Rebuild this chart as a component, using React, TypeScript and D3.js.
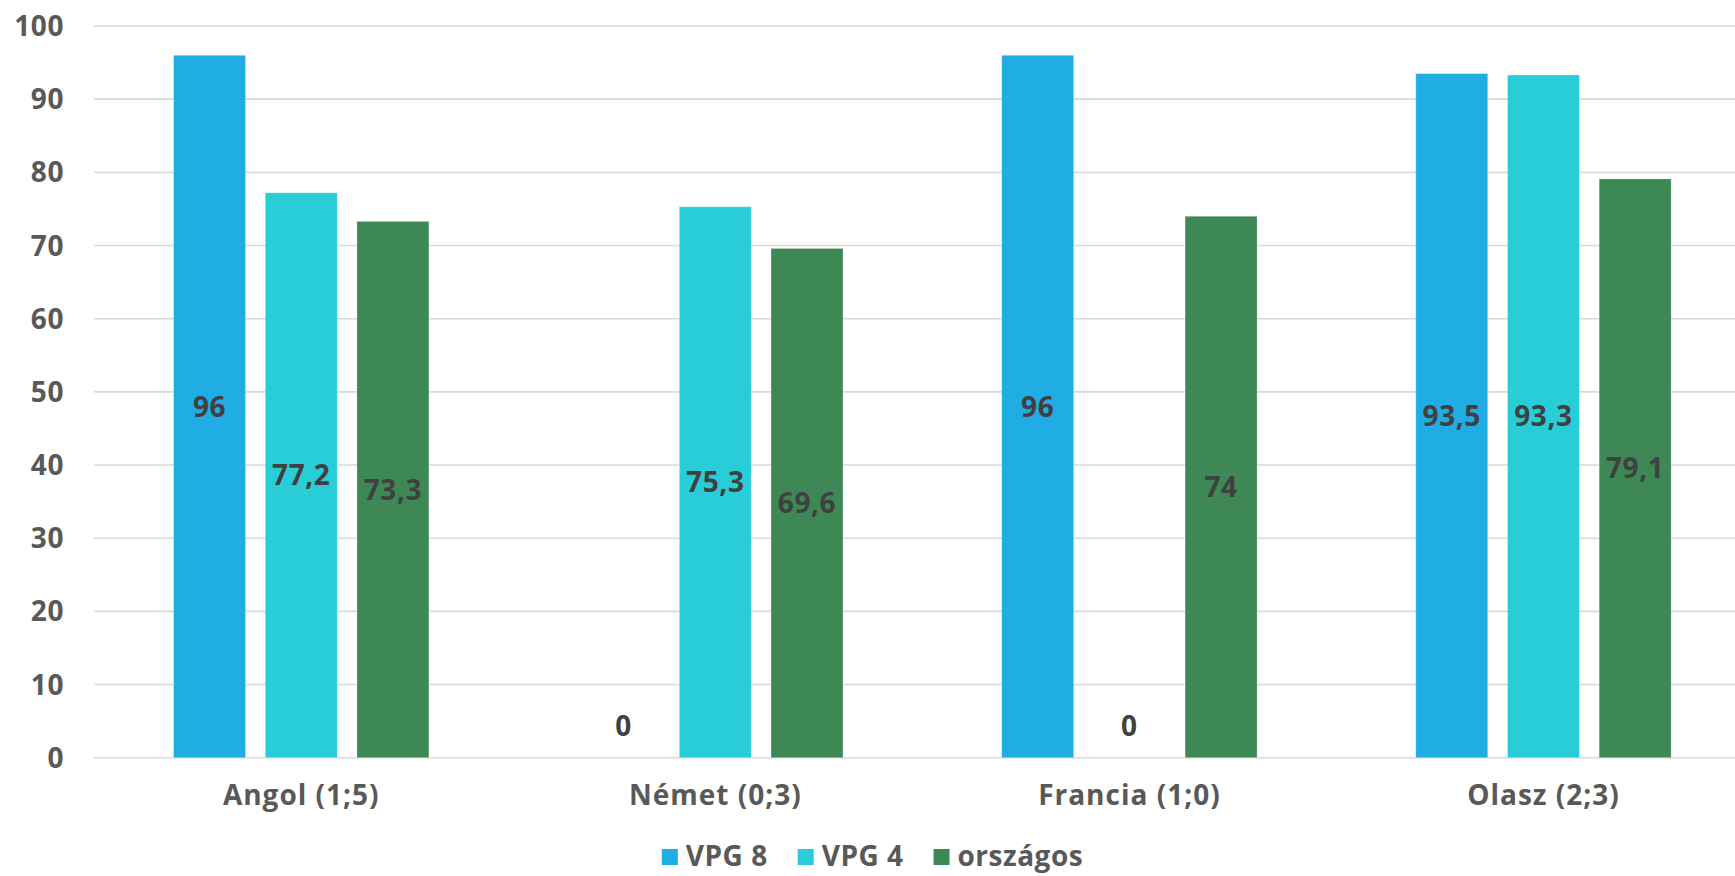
import React, { useEffect, useRef } from "react";
import * as d3 from "d3";

const categories = ["Angol (1;5)", "Német (0;3)", "Francia (1;0)", "Olasz (2;3)"];
const seriesNames = ["VPG 8", "VPG 4", "országos"];
const vpg8 = [96, 0, 96, 93.5];
const vpg4 = [77.2, 75.3, 0, 93.3];
const orszagos = [73.3, 69.6, 74, 79.1];
const seriesColors = ["#1FADE4", "#29CDD7", "#3D8854"];
const yTicks = [0, 10, 20, 30, 40, 50, 60, 70, 80, 90, 100];

const W = 1735;
const H = 876;
const FONT = "'Open Sans', 'DejaVu Sans', sans-serif";

export default function App() {
  const ref = useRef<SVGSVGElement | null>(null);

  useEffect(() => {
    const svg = d3.select(ref.current);
    svg.selectAll("*").remove();

    const values = [vpg8, vpg4, orszagos];
    const plotLeft = 94.2;
    const plotRight = 1750.5;
    const y = d3.scaleLinear().domain([0, 100]).range([757.7, 26]);
    const x0 = d3.scaleBand<string>().domain(categories).range([plotLeft, plotRight]).padding(0);
    const x1 = d3
      .scaleBand<string>()
      .domain(seriesNames)
      .range([0, x0.bandwidth()])
      .paddingInner(0.215)
      .paddingOuter(0.8655);

    // gridlines
    svg
      .append("g")
      .selectAll("line")
      .data(yTicks)
      .join("line")
      .attr("x1", plotLeft)
      .attr("x2", W)
      .attr("y1", (d) => y(d))
      .attr("y2", (d) => y(d))
      .attr("stroke", "#d9d9d9")
      .attr("stroke-width", 1.6);

    // y labels
    svg
      .append("g")
      .selectAll("text")
      .data(yTicks)
      .join("text")
      .attr("x", 64)
      .attr("y", (d) => y(d))
      .attr("dy", "0.36em")
      .attr("text-anchor", "end")
      .attr("font-family", FONT)
      .attr("font-weight", 700)
      .attr("font-size", 28)
      .attr("letter-spacing", 0.6)
      .attr("fill", "#595959")
      .text((d) => String(d));

    // bars
    const flat: { cat: string; s: string; v: number; i: number }[] = [];
    categories.forEach((c, ci) => {
      seriesNames.forEach((s, si) => {
        flat.push({ cat: c, s, v: values[si][ci], i: si });
      });
    });

    svg
      .append("g")
      .selectAll("rect")
      .data(flat.filter((d) => d.v > 0))
      .join("rect")
      .attr("x", (d) => x0(d.cat)! + x1(d.s)!)
      .attr("width", x1.bandwidth())
      .attr("y", (d) => y(d.v))
      .attr("height", (d) => y(0) - y(d.v))
      .attr("fill", (d) => seriesColors[d.i])
      .attr("stroke", "#ffffff")
      .attr("stroke-opacity", 0.35)
      .attr("stroke-width", 0.8);

    // data labels
    svg
      .append("g")
      .selectAll("text")
      .data(flat)
      .join("text")
      .attr("x", (d) => x0(d.cat)! + x1(d.s)! + x1.bandwidth() / 2)
      .attr("y", (d) => (d.v === 0 ? y(0) - 32 : (y(d.v) + y(0)) / 2))
      .attr("dy", "0.36em")
      .attr("text-anchor", "middle")
      .attr("font-family", FONT)
      .attr("font-weight", 700)
      .attr("font-size", 28)
      .attr("letter-spacing", 0.6)
      .attr("fill", "#404040")
      .text((d) => d3.format("")(d.v).replace(".", ","));

    // x labels
    svg
      .append("g")
      .selectAll("text")
      .data(categories)
      .join("text")
      .attr("x", (d) => x0(d)! + x0.bandwidth() / 2)
      .attr("y", 805)
      .attr("text-anchor", "middle")
      .attr("font-family", FONT)
      .attr("font-weight", 700)
      .attr("font-size", 28)
      .attr("letter-spacing", 1)
      .attr("fill", "#595959")
      .text((d) => d);

    // legend
    const leg = svg.append("g");
    const items = leg
      .selectAll("g")
      .data(seriesNames)
      .join("g");
    items
      .append("rect")
      .attr("width", 16)
      .attr("height", 16)
      .attr("y", 849)
      .attr("fill", (_d, i) => seriesColors[i]);
    items
      .append("text")
      .attr("x", 24)
      .attr("y", 866)
      .attr("font-family", FONT)
      .attr("font-weight", 700)
      .attr("font-size", 28)
      .attr("letter-spacing", 0.5)
      .attr("fill", "#595959")
      .text((d) => d);
    const widths: number[] = [];
    items.each(function () {
      const t = d3.select(this).select("text").node() as SVGTextElement;
      widths.push(24 + t.getComputedTextLength());
    });
    const gap = 30;
    const total = d3.sum(widths) + gap * (widths.length - 1);
    let cx = 872.5 - total / 2;
    items.each(function (_d, i) {
      d3.select(this).attr("transform", `translate(${cx},0)`);
      cx += widths[i] + gap;
    });
  }, []);

  return (
    <svg
      ref={ref}
      width={W}
      height={H}
      style={{ position: "fixed", left: 0, top: 0, background: "#ffffff" }}
    />
  );
}
